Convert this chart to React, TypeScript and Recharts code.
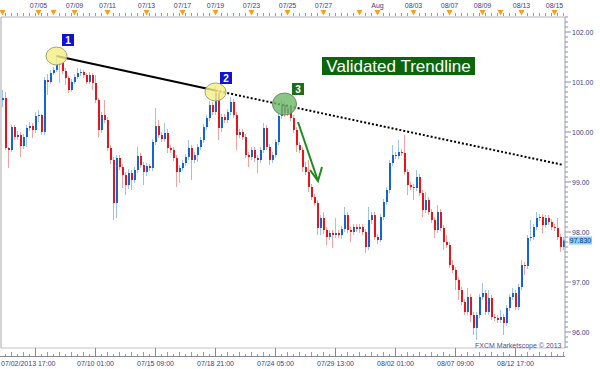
import { ComposedChart, Bar, XAxis, YAxis, ReferenceLine, ReferenceDot } from 'recharts'

// 4H candles (price = close of each bar)
const firstOpen = 100.64
const closes = [
  100.68, 99.68, 99.64, 100.1, 99.9, 99.94, 99.72, 99.9, 100.08, 100.12,
  100.04, 100.32, 100.34, 100.0, 101.04, 101.0, 101.18, 101.24, 101.36, 101.38,
  101.22, 101.08, 100.84, 101.0, 101.1, 101.18, 101.2, 101.14, 101.0, 101.14,
  100.98, 100.64, 100.04, 100.34, 100.24, 99.68, 99.44, 98.58, 99.48, 99.3,
  99.14, 98.94, 99.18, 99.04, 99.24, 99.52, 99.34, 99.2, 99.32, 99.28,
  99.8, 100.12, 99.94, 99.86, 99.98, 99.68, 99.64, 99.48, 99.2, 99.28,
  99.38, 99.5, 99.68, 99.44, 99.54, 99.7, 99.84, 100.1, 100.28, 100.54,
  100.4, 100.78, 100.08, 100.3, 100.24, 100.4, 100.6, 100.34, 99.94, 100.0,
  99.9, 99.54, 99.5, 99.64, 99.48, 99.44, 99.64, 100.08, 99.7, 99.44,
  99.54, 99.8, 100.32, 100.54, 100.38, 100.48, 100.28, 100.04, 99.74, 99.64,
  99.3, 99.2, 98.9, 98.7, 98.58, 98.08, 98.28, 98.04, 97.9, 97.98,
  97.94, 97.98, 97.94, 98.06, 98.34, 98.04, 98.0, 98.1, 98.06, 98.1,
  98.0, 97.7, 98.24, 98.34, 97.9, 97.84, 98.3, 98.6, 98.84, 99.38,
  99.54, 99.52, 99.6, 99.58, 99.2, 98.94, 98.9, 98.88, 99.1, 98.78,
  98.44, 98.64, 98.4, 98.24, 98.04, 98.4, 98.08, 97.8, 97.74, 97.34,
  97.24, 97.04, 96.84, 96.6, 96.4, 96.7, 96.34, 96.08, 96.34, 96.7,
  96.78, 96.4, 96.68, 96.3, 96.28, 96.24, 96.3, 96.18, 96.48, 96.7,
  96.78, 96.5, 96.9, 97.34, 97.32, 97.88, 97.9, 98.1, 98.28, 98.3,
  98.14, 98.28, 98.2, 98.1, 98.08, 97.9, 97.7, 97.83,
]
const highs = [
  100.84, 100.8, 99.7, 100.14, 100.14, 100.02, 100.0, 99.96, 100.14, 100.2,
  100.18, 100.4, 100.44, 100.36, 101.1, 101.16, 101.24, 101.3, 101.54, 101.44,
  101.42, 101.28, 101.12, 101.06, 101.16, 101.28, 101.26, 101.24, 101.18, 101.2,
  101.18, 101.14, 100.68, 100.4, 100.64, 100.3, 99.74, 99.5, 99.54, 99.54,
  99.36, 99.2, 99.26, 99.24, 99.3, 99.7, 99.58, 99.4, 99.38, 99.36,
  99.86, 100.48, 100.24, 100.0, 100.18, 100.06, 99.74, 99.7, 99.54, 99.34,
  99.44, 99.56, 99.84, 99.74, 99.6, 99.76, 99.9, 100.16, 100.34, 100.62,
  100.6, 100.92, 100.84, 100.36, 100.36, 100.46, 100.7, 100.66, 100.4, 100.06,
  100.06, 99.96, 99.6, 99.7, 99.7, 99.54, 99.7, 100.18, 100.14, 99.76,
  99.6, 99.86, 100.38, 100.64, 100.6, 100.56, 100.54, 100.34, 100.1, 99.8,
  99.7, 99.4, 99.44, 98.96, 98.76, 98.64, 98.34, 98.4, 98.1, 98.04,
  98.04, 98.28, 98.04, 98.12, 98.5, 98.4, 98.1, 98.16, 98.16, 98.16,
  98.16, 98.06, 98.5, 98.4, 98.4, 97.96, 98.36, 98.66, 98.9, 99.44,
  99.74, 99.6, 99.84, 99.66, 99.94, 99.26, 99.0, 98.96, 99.24, 99.16,
  98.84, 98.8, 98.7, 98.46, 98.3, 98.54, 98.46, 98.14, 97.94, 97.8,
  97.44, 97.3, 97.1, 96.9, 96.66, 96.88, 96.76, 96.4, 96.4, 96.76,
  96.98, 96.84, 96.84, 96.74, 96.36, 96.34, 96.44, 96.36, 96.54, 96.76,
  96.88, 96.84, 96.96, 97.44, 97.4, 97.94, 98.24, 98.16, 98.4, 98.36,
  98.36, 98.34, 98.34, 98.26, 98.16, 98.28, 97.96, 97.9,
]
const lows = [
  100.5, 99.64, 99.28, 99.6, 99.84, 99.84, 99.5, 99.66, 99.7, 100.02,
  99.88, 99.98, 100.2, 99.94, 99.94, 100.74, 100.96, 101.14, 101.2, 100.98,
  101.16, 100.94, 100.78, 100.8, 100.96, 101.06, 101.12, 101.08, 100.96, 100.96,
  100.84, 100.58, 99.9, 99.98, 100.18, 99.62, 99.36, 98.24, 98.28, 99.24,
  98.88, 98.74, 98.86, 98.84, 98.98, 99.18, 99.28, 98.94, 99.12, 99.22,
  99.22, 99.74, 99.88, 99.8, 99.8, 99.58, 99.58, 99.42, 98.9, 98.98,
  99.22, 99.32, 99.44, 99.04, 99.38, 99.4, 99.64, 99.78, 100.04, 100.22,
  100.34, 100.34, 99.84, 100.0, 100.18, 100.18, 100.34, 100.28, 99.64, 99.88,
  99.84, 99.48, 99.3, 99.44, 99.4, 99.18, 99.38, 99.58, 99.64, 99.34,
  99.38, 99.48, 99.74, 100.26, 100.3, 100.32, 100.22, 99.98, 99.6, 99.58,
  99.2, 99.14, 98.8, 98.64, 98.52, 97.94, 97.94, 97.96, 97.74, 97.84,
  97.68, 97.88, 97.88, 97.86, 98.0, 97.98, 97.8, 97.94, 98.0, 97.98,
  97.94, 97.58, 97.64, 98.16, 97.84, 97.76, 97.8, 98.24, 98.54, 98.78,
  99.32, 99.46, 99.46, 99.52, 99.14, 98.74, 98.84, 98.64, 98.82, 98.72,
  98.3, 98.38, 98.34, 98.18, 97.88, 97.98, 98.02, 97.64, 97.68, 97.28,
  97.18, 96.84, 96.64, 96.54, 96.34, 96.34, 96.2, 95.94, 95.84, 96.28,
  96.64, 96.34, 96.34, 96.24, 96.22, 96.18, 96.18, 95.94, 96.12, 96.42,
  96.64, 96.44, 96.44, 96.84, 97.14, 97.26, 97.82, 97.84, 98.04, 98.22,
  97.98, 98.08, 98.14, 98.04, 98.02, 97.84, 97.6, 97.64,
]
const opens = [firstOpen, ...closes.slice(0, -1)]

// top date ruler
const topMarks = [0, 12, 17, 24, 35, 48, 60, 71, 83, 95, 107, 119, 125, 137, 149, 160, 166, 173, 184]
const topLabels = ['', '07/05', '', '07/09', '07/11', '07/13', '07/17', '07/19', '07/23', '07/25', '07/27', '', 'Aug', '08/03', '08/07', '08/09', '', '08/13', '08/15']

// bottom time axis
const bottomTicks = [11, 31, 51, 71, 91, 111, 131, 151, 171]
const bottomLabels = ['07/02/2013 17:00', '07/10 01:00', '07/15 09:00', '07/18 21:00', '07/24 05:00', '07/29 13:00', '08/02 01:00', '08/07 09:00', '08/12 17:00']

// trendline through touches 1 and 2, extended
const trendIdx = [18, 71, 187]
const trendVals = [101.52, 100.83, 99.34]

// touch markers
const markIdx = [18, 71, 94]
const markVals = [101.52, 100.8, 100.56]

const lastPrice = 97.83
const yDomain: [number, number] = [95.68, 102.3]
const yTicks = Array.from({ length: 67 }, (_, k) => +(95.7 + k * 0.1).toFixed(1))

const data = closes.map((c, i) => ({
  i,
  open: opens[i],
  close: c,
  high: highs[i],
  low: lows[i],
  range: [lows[i], highs[i]],
}))
const allIdx = data.map((d) => d.i)

const AXIS_TEXT = '#3c3c8c'

function Candle(props: any) {
  const { x, y, width, height, payload } = props
  const top = Math.min(y, y + height)
  const h = Math.abs(height)
  const k = h / (payload.high - payload.low)
  const cx = Math.round(x + width / 2)
  const up = payload.close >= payload.open
  const bodyTop = top + (payload.high - Math.max(payload.open, payload.close)) * k
  const bodyH = Math.max(1, Math.abs(payload.open - payload.close) * k)
  return (
    <g>
      <rect x={cx - 1} y={top} width={1} height={h} fill={up ? '#9ec3ec' : '#f3a2a2'} />
      <rect x={cx - 1} y={bodyTop} width={2} height={bodyH} fill={up ? '#1464d2' : '#e8131b'} />
    </g>
  )
}

function TopTick(props: any) {
  const { x, payload } = props
  const i = payload.value
  const k = topMarks.indexOf(i)
  if (k >= 0) {
    return (
      <g>
        <path d={`M${x - 3},10 L${x + 3},10 L${x},15.5 Z`} fill="#f5a11c" />
        {topLabels[k] && (
          <text x={x} y={8} textAnchor="middle" fontSize={7} fill={AXIS_TEXT}>
            {topLabels[k]}
          </text>
        )}
      </g>
    )
  }
  if (i % 2 === 1) return <line x1={x} x2={x} y1={13} y2={16} stroke="#9a9aa8" />
  return <g />
}

function BottomTick(props: any) {
  const { x, payload } = props
  const i = payload.value
  const k = bottomTicks.indexOf(i)
  return (
    <g>
      {i === 0 && <line x1={0} x2={565} y1={356.5} y2={356.5} stroke="#8a8a96" />}
      {k >= 0 && <line x1={x} x2={x} y1={348} y2={356} stroke="#8a8a96" />}
      {k < 0 && (i - 11) % 4 === 0 && <line x1={x} x2={x} y1={352} y2={356} stroke="#9a9aa6" />}
      {k < 0 && (i - 11) % 2 === 0 && (i - 11) % 4 !== 0 && (
        <line x1={x} x2={x} y1={354} y2={356} stroke="#9a9aa6" />
      )}
      {k >= 0 && (
        <text
          x={k === 0 ? 1 : x}
          y={366}
          textAnchor={k === 0 ? 'start' : 'middle'}
          fontSize={7}
          fill={AXIS_TEXT}
        >
          {bottomLabels[k]}
        </text>
      )}
    </g>
  )
}

function RightTick(props: any) {
  const { y, payload } = props
  const v = payload.value
  const major = Math.abs(v - Math.round(v)) < 0.001
  return (
    <g>
      <line x1={565} x2={major ? 571 : 568} y1={y} y2={y} stroke="#8890a8" />
      {major && (
        <text x={572} y={y + 2.5} fontSize={7} fill={AXIS_TEXT}>
          {v.toFixed(2)}
        </text>
      )}
    </g>
  )
}

function Marker(props: any) {
  const { cx, cy, n } = props
  const green = n === 3
  const box = [
    { dx: 5.5, dy: -22 },
    { dx: 4.5, dy: -20 },
    { dx: 7.5, dy: -21 },
  ][n - 1]
  return (
    <g>
      <ellipse
        cx={cx}
        cy={cy}
        rx={green ? 12 : 10.5}
        ry={green ? 11 : 9}
        fill={green ? '#6fb86a' : '#f4ef86'}
        fillOpacity={0.82}
        stroke={green ? '#6a8a6a' : '#a0a080'}
      />
      <rect x={cx + box.dx} y={cy + box.dy} width={12} height={12} fill={green ? '#1c6e1c' : '#1212cc'} />
      <text
        x={cx + box.dx + 6}
        y={cy + box.dy + 10}
        textAnchor="middle"
        fontSize={10}
        fontWeight="bold"
        fill="#fff"
      >
        {n}
      </text>
    </g>
  )
}

function Arrow(props: any) {
  const { cx, cy } = props
  const tx = cx + 33.5
  const ty = cy + 77
  return (
    <g stroke="#1f8a1f" strokeWidth={2} fill="none">
      <line x1={cx + 13.5} y1={cy + 18} x2={tx} y2={ty} />
      <polyline points={`${cx + 25.5},${cy + 66} ${tx},${ty} ${cx + 37.5},${cy + 63}`} />
    </g>
  )
}

function TitleBox(props: any) {
  const { cx, cy } = props
  return (
    <g>
      <rect x={cx - 76.5} y={cy - 9} width={153} height={18} fill="#0b660b" />
      <text x={cx} y={cy + 6} textAnchor="middle" fontSize={17} fill="#fff">
        Validated Trendline
      </text>
    </g>
  )
}

function PriceTag(props: any) {
  const { cx, cy } = props
  return (
    <g>
      <rect x={cx + 5.5} y={cy - 4} width={23} height={8} fill="#82d4f4" />
      <text x={cx + 17} y={cy + 2.5} textAnchor="middle" fontSize={7} fill="#1a2e8a">
        {lastPrice.toFixed(3)}
      </text>
    </g>
  )
}

function Credit(props: any) {
  const { cx, cy } = props
  return (
    <text x={cx - 2} y={cy + 2.5} textAnchor="end" fontSize={7} fill="#50508a">
      FXCM Marketscope © 2013
    </text>
  )
}

export default function App() {
  return (
    <div
      style={{
        position: 'absolute',
        left: 0,
        top: 0,
        width: 600,
        height: 369,
        background: '#fff',
        fontFamily: '"Liberation Sans", Arial, sans-serif',
      }}
    >
      <ComposedChart
        width={600}
        height={369}
        data={data}
        margin={{ top: 0, right: 0, bottom: 0, left: 0 }}
        barCategoryGap={0}
        barGap={0}
      >
        <XAxis
          dataKey="i"
          height={21}
          ticks={allIdx}
          interval={0}
          tick={<BottomTick />}
          tickLine={false}
          axisLine={{ stroke: '#c4c4cc' }}
        />
        <XAxis
          xAxisId="top"
          dataKey="i"
          orientation="top"
          height={17}
          ticks={allIdx}
          interval={0}
          tick={<TopTick />}
          tickLine={false}
          axisLine={{ stroke: '#b0b0bc' }}
        />
        <YAxis
          orientation="right"
          width={35}
          domain={yDomain}
          allowDataOverflow
          ticks={yTicks}
          interval={0}
          tick={<RightTick />}
          tickLine={false}
          axisLine={{ stroke: '#9aa0b4' }}
        />
        <YAxis yAxisId="l" orientation="left" width={1} tick={false} tickLine={false} axisLine={{ stroke: '#a8a8a8' }} />
        <Bar dataKey="range" shape={<Candle />} isAnimationActive={false} />
        <ReferenceDot x={markIdx[0]} y={markVals[0]} ifOverflow="visible" shape={(p: any) => <Marker {...p} n={1} />} />
        <ReferenceDot x={markIdx[1]} y={markVals[1]} ifOverflow="visible" shape={(p: any) => <Marker {...p} n={2} />} />
        <ReferenceDot x={markIdx[2]} y={markVals[2]} ifOverflow="visible" shape={(p: any) => <Marker {...p} n={3} />} />
        <ReferenceLine
          segment={[
            { x: trendIdx[0], y: trendVals[0] },
            { x: trendIdx[1], y: trendVals[1] },
          ]}
          stroke="#000"
          strokeWidth={2}
          ifOverflow="visible"
        />
        <ReferenceLine
          segment={[
            { x: trendIdx[1], y: trendVals[1] },
            { x: trendIdx[2], y: trendVals[2] },
          ]}
          stroke="#000"
          strokeWidth={2}
          strokeDasharray="2 2"
          ifOverflow="visible"
        />
        <ReferenceDot x={markIdx[2]} y={markVals[2]} ifOverflow="visible" shape={(p: any) => <Arrow {...p} />} />
        <ReferenceDot x={132} y={101.32} ifOverflow="visible" shape={(p: any) => <TitleBox {...p} />} />
        <ReferenceDot x={187} y={lastPrice} ifOverflow="visible" shape={(p: any) => <PriceTag {...p} />} />
        <ReferenceDot x={187} y={95.74} ifOverflow="visible" shape={(p: any) => <Credit {...p} />} />
      </ComposedChart>
    </div>
  )
}
